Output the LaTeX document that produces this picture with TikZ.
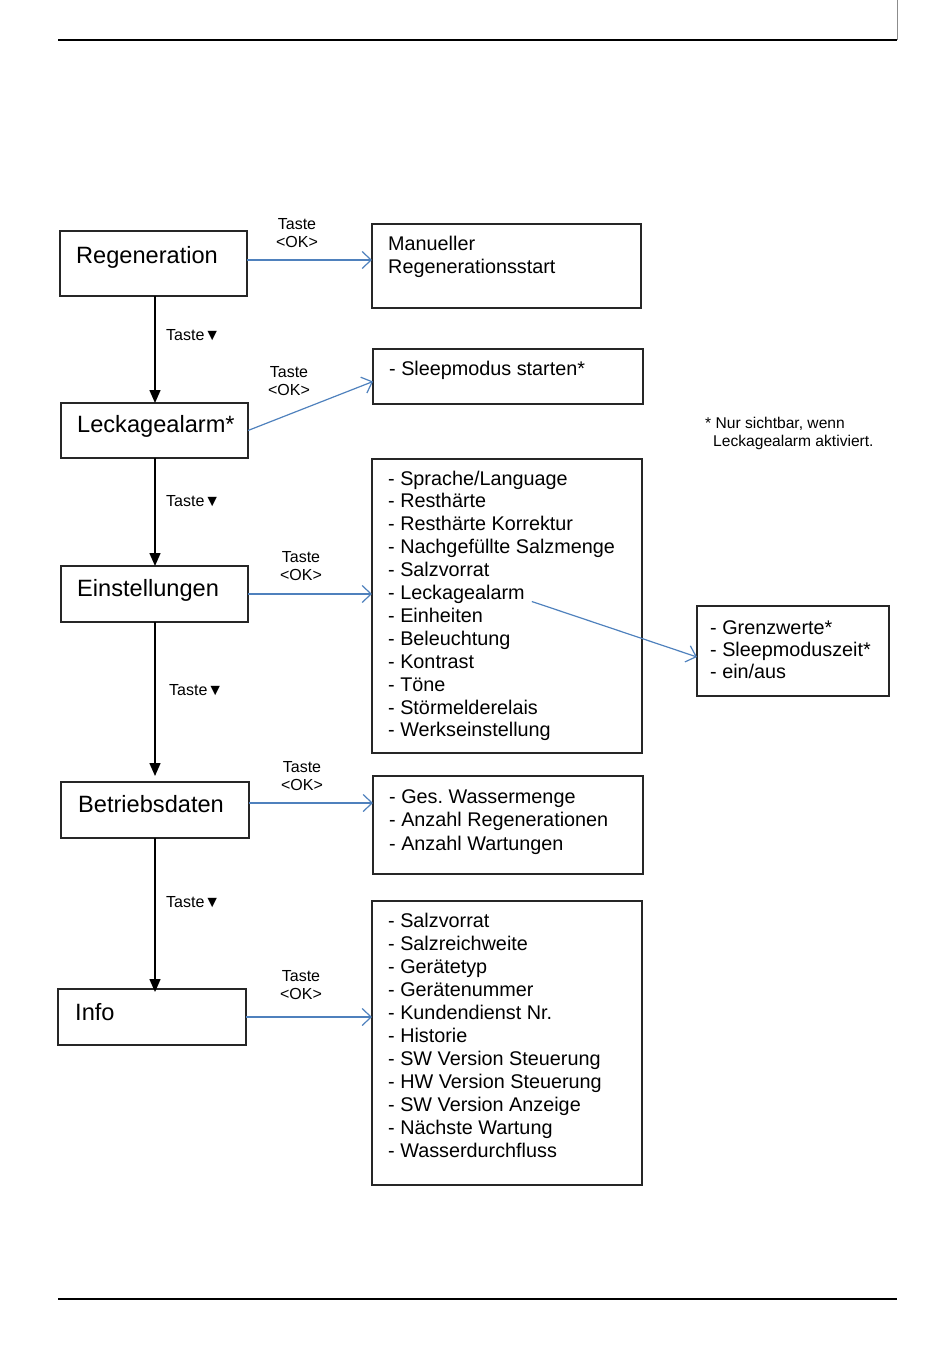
\documentclass[tikz,border=0pt]{standalone}
\usepackage{fontspec}
\setmainfont{Liberation Sans}
\usetikzlibrary{arrows.meta}
\definecolor{okblue}{RGB}{79,129,189}
\frenchspacing
\tikzset{
  box/.style={draw=black!85, line width=1.1pt, anchor=north west, inner sep=0pt, outer sep=0pt},
  big/.style={anchor=base west, inner sep=0pt, font=\fontsize{23.6}{27}\selectfont},
  item/.style={anchor=base west, inner sep=0pt, font=\fontsize{19.8}{23}\selectfont},
  small/.style={anchor=base, inner sep=0pt, font=\fontsize{16}{18}\selectfont},
  tastelbl/.style={anchor=base west, inner sep=0pt, font=\fontsize{16}{18}\selectfont},
  note/.style={anchor=base west, inner sep=0pt, font=\fontsize{15.6}{18}\selectfont},
  okarrow/.style={draw=okblue, line width=1.2pt, -{Straight Barb[length=9pt,width=17pt]}},
  downarrow/.style={draw=black, line width=1.4pt, -{Triangle[length=13pt,width=11pt]}},
  rulebar/.style={draw=black, line width=2.6pt},
}
\begin{document}
\begin{tikzpicture}[x=1pt,y=-1pt]
\useasboundingbox (0,0) rectangle (950,1357);
% page rules
\coordinate (tl) at (58,40);
\coordinate (tr) at (897,40);
\coordinate (tv) at (897,0);
\coordinate (bl) at (58,1299);
\coordinate (br) at (897,1299);
\draw[rulebar] (tl) -- (tr);
\draw[black!45, line width=0.6pt] (tv) -- (tr);
\draw[rulebar, line width=2.4pt] (bl) -- (br);

% left boxes
\node[box, minimum width=187, minimum height=65] (reg) at (60,231) {};
\node[box, minimum width=187, minimum height=55] (leck) at (61,403) {};
\node[box, minimum width=187, minimum height=56] (einst) at (61,566) {};
\node[box, minimum width=188, minimum height=56] (betr) at (61,782) {};
\node[box, minimum width=188, minimum height=56] (info) at (58,989) {};
\node[big] (regt) at (76,263) {Regeneration};
\node[big] (leckt) at (77,432) {Leckagealarm*};
\node[big] (einstt) at (77,596) {Einstellungen};
\node[big] (betrt) at (78,812) {Betriebsdaten};
\node[big] (infot) at (75,1020) {Info};

% right boxes
\node[box, minimum width=269, minimum height=84] (man) at (372,224) {};
\node[box, minimum width=270, minimum height=55] (sleep) at (373,349) {};
\node[box, minimum width=270, minimum height=294] (sett) at (372,459) {};
\node[box, minimum width=192, minimum height=90] (grenz) at (697,606) {};
\node[box, minimum width=270, minimum height=98] (betl) at (373,776) {};
\node[box, minimum width=270, minimum height=284] (infl) at (372,901) {};

% texts of right boxes
\node[item] (m1) at (388,250) {Manueller};
\node[item] (m2) at (388,273) {Regenerationsstart};
\node[item] (sl1) at (389,375) {- Sleepmodus starten*};

\node[item] (s1) at (388,485.0) {- Sprache/Language};
\node[item] (s2) at (388,507.9) {- Resthärte};
\node[item] (s3) at (388,530.8) {- Resthärte Korrektur};
\node[item] (s4) at (388,553.7) {- Nachgefüllte Salzmenge};
\node[item] (s5) at (388,576.6) {- Salzvorrat};
\node[item] (s6) at (388,599.5) {- Leckagealarm};
\node[item] (s7) at (388,622.4) {- Einheiten};
\node[item] (s8) at (388,645.3) {- Beleuchtung};
\node[item] (s9) at (388,668.2) {- Kontrast};
\node[item] (s10) at (388,691.1) {- Töne};
\node[item] (s11) at (388,714.0) {- Störmelderelais};
\node[item] (s12) at (388,736.9) {- Werkseinstellung};

\node[item] (g1) at (710,634) {- Grenzwerte*};
\node[item] (g2) at (710,656) {- Sleepmoduszeit*};
\node[item] (g3) at (710,678) {- ein/aus};

\node[item] (b1) at (389,803) {- Ges. Wassermenge};
\node[item] (b2) at (389,826.5) {- Anzahl Regenerationen};
\node[item] (b3) at (389,850) {- Anzahl Wartungen};

\node[item] (i1) at (388,927) {- Salzvorrat};
\node[item] (i2) at (388,950) {- Salzreichweite};
\node[item] (i3) at (388,973) {- Gerätetyp};
\node[item] (i4) at (388,996) {- Gerätenummer};
\node[item] (i5) at (388,1019) {- Kundendienst Nr.};
\node[item] (i6) at (388,1042) {- Historie};
\node[item] (i7) at (388,1065) {- SW Version Steuerung};
\node[item] (i8) at (388,1088) {- HW Version Steuerung};
\node[item] (i9) at (388,1111) {- SW Version Anzeige};
\node[item] (i10) at (388,1134) {- Nächste Wartung};
\node[item] (i11) at (388,1157) {- Wasserdurchfluss};

% note
\node[note] (n1) at (705,428) {* Nur sichtbar, wenn};
\node[note] (n2) at (713,446.5) {Leckagealarm aktiviert.};

% Taste <OK> labels
\node[small] (k1a) at (297,229) {Taste};
\node[small] (k1b) at (297,247) {<OK>};
\node[small] (k2a) at (289,377) {Taste};
\node[small] (k2b) at (289,395) {<OK>};
\node[small] (k3a) at (301,562) {Taste};
\node[small] (k3b) at (301,580) {<OK>};
\node[small] (k4a) at (302,772) {Taste};
\node[small] (k4b) at (302,790) {<OK>};
\node[small] (k5a) at (301,981) {Taste};
\node[small] (k5b) at (301,999) {<OK>};

% Taste down labels
\node[tastelbl] (d1) at (166,340) {Taste▼};
\node[tastelbl] (d2) at (166,506) {Taste▼};
\node[tastelbl] (d3) at (169,695) {Taste▼};
\node[tastelbl] (d4) at (166,907) {Taste▼};

% blue OK arrows
\coordinate (c1) at ([yshift=3.5pt]reg.east);
\draw[okarrow] (c1) -- (c1 -| man.west);
\draw[okarrow] (leck.east) -- ([yshift=-5pt]sleep.west);
\draw[okarrow] (einst.east) -- (einst.east -| sett.west);
\coordinate (c4) at ([yshift=7pt]betr.east);
\draw[okarrow] (c4) -- (c4 -| betl.west);
\draw[okarrow] (info.east) -- (info.east -| infl.west);
\draw[okarrow] ([xshift=7pt,yshift=-2pt]s6.base east) -- ([yshift=-6pt]grenz.west);

% black down arrows
\coordinate (a1) at (155,296);
\draw[downarrow] (a1) -- (a1 |- leck.north);
\coordinate (a2) at (155,458);
\draw[downarrow] (a2) -- (a2 |- einst.north);
\coordinate (a3) at (155,622);
\draw[downarrow, shorten >=6pt] (a3) -- (a3 |- betr.north);
\coordinate (a4) at (155,838);
\draw[downarrow, shorten >=-3pt] (a4) -- (a4 |- info.north);
\end{tikzpicture}
\end{document}
